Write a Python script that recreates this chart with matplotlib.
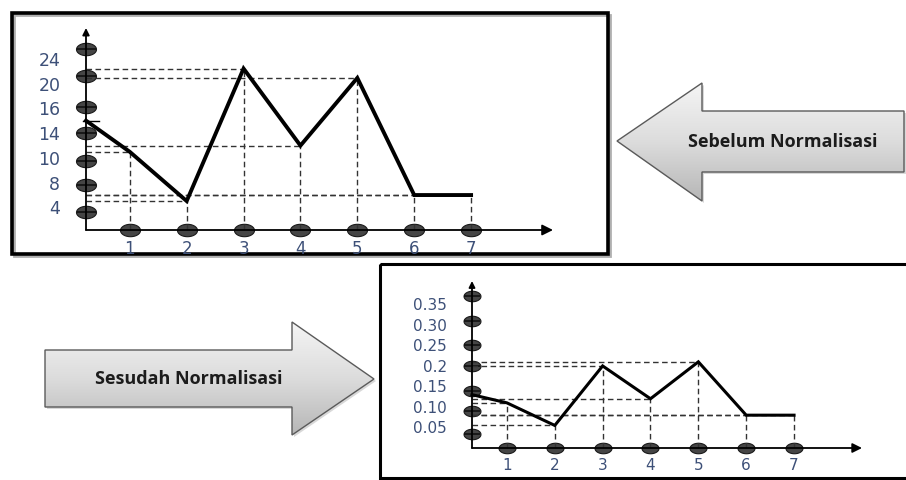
import numpy as np
import matplotlib
matplotlib.use('Agg')
import matplotlib.pyplot as plt
from matplotlib.patches import Polygon, Rectangle
from matplotlib.path import Path
from matplotlib.colors import LinearSegmentedColormap

# data
periode = [1, 2, 3, 4, 5, 6, 7]
sebelum_awal = 15
sebelum = [11, 5, 22.5, 12, 21, 6, 6]
sesudah_awal = 0.13
sesudah = [0.11, 0.055, 0.2, 0.12, 0.21, 0.08, 0.08]

ytick_sebelum = [4, 8, 10, 14, 16, 20, 24]
ytick_sesudah = [0.05, 0.10, 0.15, 0.2, 0.25, 0.30, 0.35]
ylabel_sesudah = ['0.05', '0.10', '0.15', '0.2', '0.25', '0.30', '0.35']
# bulatan (oval markers) sit a little off the labels in the original
bulatan_sebelum = [3.1, 7.7, 9.8, 14, 16.2, 21.3, 25.6]
bulatan_sesudah = [0.035, 0.09, 0.14, 0.2, 0.25, 0.31, 0.37]

judul_sebelum = 'Sebelum Normalisasi'
judul_sesudah = 'Sesudah Normalisasi'

# the top y axis is not linear (labels are evenly spaced), piecewise scale
skala_val = [-50, 0, 4, 8, 10, 14, 16, 20, 24, 60]
skala_lvl = [-11.5, 0, 0.92, 1.88, 2.88, 3.88, 4.88, 5.84, 6.84, 15.84]

def fwd(v):
    return np.interp(v, skala_val, skala_lvl)

def inv(l):
    return np.interp(l, skala_lvl, skala_val)

W, H = 906, 480
fig = plt.figure(figsize=(W / 100, H / 100), dpi=100)
fig.patch.set_facecolor('white')

def px_axes(x0, y0, x1, y1):
    return fig.add_axes([x0 / W, 1 - y1 / H, (x1 - x0) / W, (y1 - y0) / H])

# background: frames and block arrows
bg = fig.add_axes([0, 0, 1, 1])
bg.axis('off')

bg.add_patch(Rectangle((14, 15), 596, 241, fill=False, ec='#b0b0b0', lw=2.0, zorder=1))
bg.add_patch(Rectangle((12, 12.5), 596, 241, fill=False, ec='black', lw=2.6, zorder=2))
bg.add_patch(Rectangle((379.5, 264), 560, 214, fill=False, ec='black', lw=2.2, zorder=2))

cmap = LinearSegmentedColormap.from_list('abu', ['#f5f5f5', '#dcdcdc', '#b6b6b6'])

def panah(verts, teks, tx, ty):
    sh = Polygon([(x + 2, y + 2) for x, y in verts], closed=True, fc='#d8d8d8', ec='none', zorder=1)
    bg.add_patch(sh)
    poly = Polygon(verts, closed=True, fc='none', ec='#5a5a5a', lw=1.0, zorder=3)
    bg.add_patch(poly)
    xs, ys = zip(*verts)
    grad = np.linspace(0, 1, 256).reshape(-1, 1)
    im = bg.imshow(grad, cmap=cmap, extent=(min(xs), max(xs), max(ys), min(ys)),
                   aspect='auto', zorder=2)
    im.set_clip_path(poly)
    bg.text(tx, ty, teks, ha='center', va='center', fontsize=13, fontweight='bold',
            family=['Open Sans', 'DejaVu Sans'], color='#1c1c1c', zorder=4)

panah([(617, 141), (702, 83), (702, 111), (904, 111), (904, 172), (702, 172), (702, 201)],
      judul_sebelum, 783, 142)
panah([(45, 350), (292, 350), (292, 322), (374, 379), (292, 435), (292, 407), (45, 407)],
      judul_sesudah, 189, 379)

bg.set_xlim(0, W)
bg.set_ylim(H, 0)

# oval marker
t = np.linspace(0, 2 * np.pi, 60)
elips = Path(np.column_stack([np.cos(t), 0.62 * np.sin(t)]))

warna_label = '#3d5078'

def gambar(ax, x0, awal, nilai, bulatan, lw_garis, ms, ukuran_panah):
    ax.patch.set_alpha(0)
    for s in ax.spines.values():
        s.set_visible(False)
    kw = dict(color='#333333', lw=1.0, dashes=(4, 2.5), zorder=4, clip_on=False)
    for x, y in zip(periode, nilai):
        ax.plot([x0, x], [y, y], **kw)
        ax.plot([x, x], [0, y], **kw)
    # axis lines with arrow heads
    ax.annotate('', xy=(1, 0), xytext=(0, 0), xycoords='axes fraction',
                arrowprops=dict(arrowstyle='-|>', color='black', lw=1.3,
                                mutation_scale=ukuran_panah[0], shrinkA=0, shrinkB=0), zorder=5)
    ax.annotate('', xy=(0, 1), xytext=(0, 0), xycoords='axes fraction',
                arrowprops=dict(arrowstyle='-|>', color='black', lw=1.3,
                                mutation_scale=ukuran_panah[1], shrinkA=0, shrinkB=0), zorder=5)
    okw = dict(ls='none', marker=elips, ms=ms, mfc='#454545', mec='#1a1a1a', mew=0.8,
               clip_on=False, zorder=3)
    ax.plot(np.full(len(bulatan), x0), bulatan, **okw)
    ax.plot(periode, np.zeros(len(periode)), **okw)
    ax.plot(np.full(len(bulatan), x0), bulatan, ls='none', marker='_', ms=ms * 0.95,
            mec='#111111', mew=1.2, clip_on=False, zorder=3.5)
    ax.plot([x0] + periode, [awal] + nilai, color='black', lw=lw_garis, zorder=6,
            solid_joinstyle='miter', clip_on=False)

# top chart: before normalisation
ax1 = px_axes(86, 28, 553, 230)
ax1.set_yscale('function', functions=(fwd, inv))
ax1.set_xlim(0.23, 8.44)
ax1.set_ylim(0, 29)
gambar(ax1, 0.23, sebelum_awal, sebelum, bulatan_sebelum, 2.8, 14.4, (16, 10))
ax1.plot([0.18, 0.45], [sebelum_awal, sebelum_awal], color='black', lw=1.0, zorder=6, clip_on=False)
ax1.set_yticks(ytick_sebelum)
ax1.set_yticklabels([str(v) for v in ytick_sebelum])
ax1.set_xticks(periode)
ax1.set_xticklabels([str(p) for p in periode])
ax1.tick_params(axis='y', length=0, pad=18.5, labelsize=12.5, labelcolor=warna_label)
ax1.tick_params(axis='x', length=0, pad=7.5, labelsize=12, labelcolor=warna_label)
ax1.minorticks_off()

# bottom chart: after normalisation
ax2 = px_axes(472, 281, 862, 448)
ax2.set_xlim(0.27, 8.42)
ax2.set_ylim(0, 0.407)
gambar(ax2, 0.27, sesudah_awal, sesudah, bulatan_sesudah, 2.2, 12.2, (14, 9))
ax2.set_yticks(ytick_sesudah)
ax2.set_yticklabels(ylabel_sesudah)
ax2.set_xticks(periode)
ax2.set_xticklabels([str(p) for p in periode])
ax2.tick_params(axis='y', length=0, pad=18, labelsize=11, labelcolor=warna_label)
ax2.tick_params(axis='x', length=0, pad=7.5, labelsize=11, labelcolor=warna_label)

fig.savefig('out.png', dpi=100)
